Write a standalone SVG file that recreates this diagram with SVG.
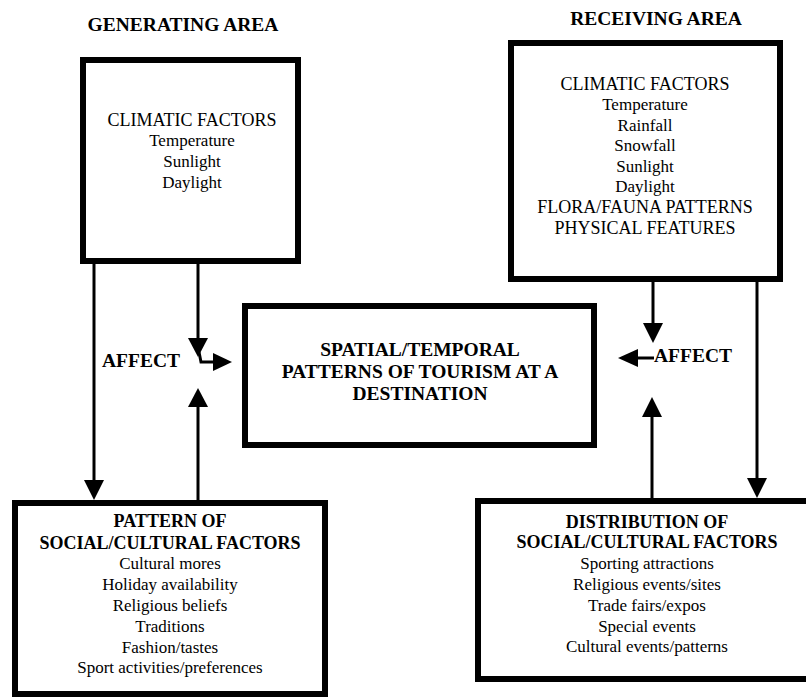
<svg xmlns="http://www.w3.org/2000/svg" width="806" height="700" viewBox="0 0 806 700">
<style>
.box{fill:#fff;stroke:#000;stroke-width:6}
.ln{fill:none;stroke:#000;stroke-width:3}
.hd{fill:#000}
text{font-family:"Liberation Serif","Times New Roman",serif;fill:#000;text-anchor:middle}
.h{font-weight:bold;font-size:19.5px}
.b{font-weight:bold;font-size:18px}
.t{font-size:18px}
.s{font-size:17px}
</style>
<rect width="806" height="700" fill="#fff"/>
<text class="h" x="183" y="31">GENERATING AREA</text>
<text class="h" x="656" y="25">RECEIVING AREA</text>

<g id="gen-climate">
<rect class="box" x="83" y="60" width="215" height="201"/>
<text class="t" x="192" y="126">CLIMATIC FACTORS</text>
<text class="s" x="192" y="146">Temperature</text>
<text class="s" x="192" y="167">Sunlight</text>
<text class="s" x="192" y="188">Daylight</text>
</g>

<g id="rec-climate">
<rect class="box" x="511" y="43" width="269" height="236"/>
<text class="t" x="645" y="90">CLIMATIC FACTORS</text>
<text class="s" x="645" y="110">Temperature</text>
<text class="s" x="645" y="131">Rainfall</text>
<text class="s" x="645" y="151">Snowfall</text>
<text class="s" x="645" y="172">Sunlight</text>
<text class="s" x="645" y="192">Daylight</text>
<text class="t" x="645" y="213">FLORA/FAUNA PATTERNS</text>
<text class="t" x="645" y="234">PHYSICAL FEATURES</text>
</g>

<g id="destination">
<rect class="box" x="245" y="306" width="349" height="139"/>
<text class="h" x="420" y="356">SPATIAL/TEMPORAL</text>
<text class="h" x="420" y="378">PATTERNS OF TOURISM AT A</text>
<text class="h" x="420" y="400">DESTINATION</text>
</g>

<g id="gen-social">
<rect class="box" x="15" y="503" width="310" height="191"/>
<text class="b" x="170" y="527">PATTERN OF</text>
<text class="b" x="170" y="549">SOCIAL/CULTURAL FACTORS</text>
<text class="s" x="170" y="569">Cultural mores</text>
<text class="s" x="170" y="590">Holiday availability</text>
<text class="s" x="170" y="611">Religious beliefs</text>
<text class="s" x="170" y="632">Traditions</text>
<text class="s" x="170" y="653">Fashion/tastes</text>
<text class="s" x="170" y="673">Sport activities/preferences</text>
</g>

<g id="rec-social">
<rect class="box" x="478" y="501" width="340" height="178"/>
<text class="b" x="647" y="528">DISTRIBUTION OF</text>
<text class="b" x="647" y="548">SOCIAL/CULTURAL FACTORS</text>
<text class="s" x="647" y="569">Sporting attractions</text>
<text class="s" x="647" y="590">Religious events/sites</text>
<text class="s" x="647" y="611">Trade fairs/expos</text>
<text class="s" x="647" y="632">Special events</text>
<text class="s" x="647" y="652">Cultural events/patterns</text>
</g>

<g id="connectors">
<line class="ln" x1="94" y1="264" x2="94" y2="482"/>
<polygon class="hd" points="84,480 104,480 94,500"/>
<line class="ln" x1="198" y1="264" x2="198" y2="340"/>
<polygon class="hd" points="188,338 208,338 198,357"/>
<path class="ln" d="M199,352 L201,362 L215,362"/>
<polygon class="hd" points="213,353 213,371 232,362"/>
<line class="ln" x1="198" y1="405" x2="198" y2="500"/>
<polygon class="hd" points="188,407 208,407 198,388"/>
<text class="h" x="141" y="367">AFFECT</text>
<line class="ln" x1="653" y1="282" x2="653" y2="325"/>
<polygon class="hd" points="643,323 663,323 653,343"/>
<line class="ln" x1="757" y1="282" x2="757" y2="480"/>
<polygon class="hd" points="747,478 767,478 757,498"/>
<line class="ln" x1="652" y1="415" x2="652" y2="498"/>
<polygon class="hd" points="642,417 662,417 652,397"/>
<line class="ln" x1="636" y1="358" x2="654" y2="358"/>
<polygon class="hd" points="638,349 638,367 618,358"/>
<text class="h" x="693" y="362">AFFECT</text>
</g>
</svg>
